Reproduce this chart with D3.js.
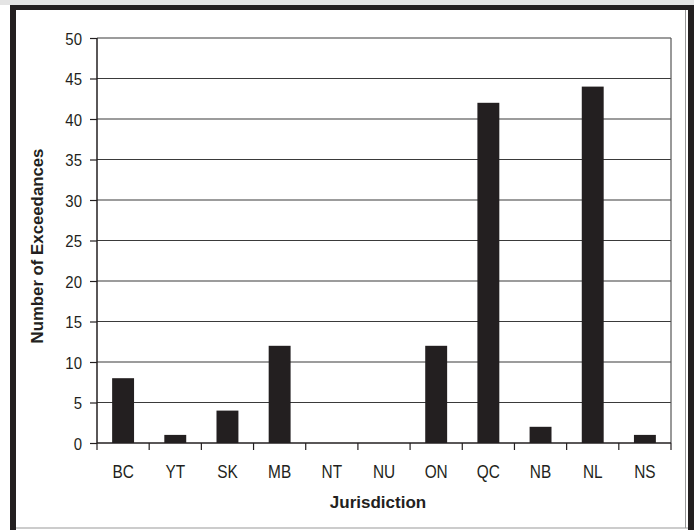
<!DOCTYPE html>
<html><head><meta charset="utf-8">
<script src="https://cdn.jsdelivr.net/npm/d3@7/dist/d3.min.js"></script>
<style>
html,body{margin:0;padding:0;background:#fff;overflow:hidden;}
svg{display:block;}
text{font-family:"Liberation Sans",Arial,Helvetica,sans-serif;fill:#231f20;}
</style></head>
<body>
<svg id="c" width="694" height="530"></svg>
<script>
const categories = ["BC","YT","SK","MB","NT","NU","ON","QC","NB","NL","NS"];
const exceedances = [8,1,4,12,0,0,12,42,2,44,1];
const yTicks = [0,5,10,15,20,25,30,35,40,45,50];
const xTitle = "Jurisdiction";
const yTitle = "Number of Exceedances";

const svg = d3.select("#c");
// frame
svg.append("rect").attr("x",0).attr("y",0).attr("width",694).attr("height",5).attr("fill","#e4e4e4");
svg.append("rect").attr("x",10).attr("y",5).attr("width",684).attr("height",5).attr("fill","#231f20");
svg.append("rect").attr("x",10).attr("y",5).attr("width",6).attr("height",525).attr("fill","#231f20");
svg.append("rect").attr("x",688).attr("y",5).attr("width",6).attr("height",525).attr("fill","#231f20");
svg.append("line").attr("x1",685.5).attr("x2",685.5).attr("y1",10).attr("y2",528).attr("stroke","#999").attr("stroke-width",1);
svg.append("line").attr("x1",16).attr("x2",688).attr("y1",528).attr("y2",528).attr("stroke","#999").attr("stroke-width",1);

const L=97, R=671, T=38, B=443;
const x = d3.scaleBand().domain(categories).range([L,R]).paddingInner(0.58).paddingOuter(0.29);
const xb = d3.scaleBand().domain(categories).range([L,R]);
const y = d3.scaleLinear().domain([0,50]).range([B,T]);

const g = svg.append("g");
// gridlines
g.selectAll("line.grid").data(yTicks.filter(d=>d>0)).join("line")
  .attr("x1",L).attr("x2",R).attr("y1",d=>y(d)).attr("y2",d=>y(d))
  .attr("stroke","#3a3a3a").attr("stroke-width",1.2);
// right border
g.append("line").attr("x1",R).attr("x2",R).attr("y1",T).attr("y2",B).attr("stroke","#555").attr("stroke-width",1.2);

// bars
g.selectAll("rect.bar").data(categories).join("rect")
  .attr("x",d=>x(d)).attr("width",x.bandwidth())
  .attr("y",(d,i)=>y(exceedances[i])).attr("height",(d,i)=>B-y(exceedances[i]))
  .attr("fill","#231f20");

// y axis
const yAxis = d3.axisLeft(y).tickValues(yTicks).tickSize(7).tickPadding(8);
const ya = svg.append("g").attr("transform",`translate(${L},0)`).call(yAxis);
ya.attr("font-size",null).attr("font-family",null);
ya.select(".domain").attr("stroke","#231f20").attr("stroke-width",1.5).attr("d",`M0,${T}V${B}`);
ya.selectAll(".tick line").attr("stroke","#231f20").attr("stroke-width",1.2);
ya.selectAll(".tick text").attr("x",null).attr("dy",null)
  .attr("transform","translate(-15,6) scale(0.88,1)")
  .style("font-size","17px").attr("fill","#231f20");

// x axis baseline and ticks
const xa = svg.append("g");
xa.append("line").attr("x1",L).attr("x2",R).attr("y1",B).attr("y2",B).attr("stroke","#231f20").attr("stroke-width",1.5);
const bounds = categories.map(c=>xb(c)).concat([R]);
xa.selectAll("line.t").data(bounds).join("line")
  .attr("x1",d=>d).attr("x2",d=>d).attr("y1",B).attr("y2",B+7)
  .attr("stroke","#231f20").attr("stroke-width",1.2);
xa.selectAll("text.lab").data(categories).join("text")
  .attr("transform",d=>`translate(${xb(d)+xb.bandwidth()/2},478) scale(0.88,1)`)
  .attr("text-anchor","middle").style("font-size","17.5px").text(d=>d);

// titles
svg.append("text").attr("x",(L+R)/2-6).attr("y",508).attr("text-anchor","middle")
  .style("font-size","17px").attr("font-weight","bold").text(xTitle);
svg.append("text").attr("transform",`translate(42.5,246) rotate(-90)`).attr("text-anchor","middle")
  .style("font-size","16.8px").attr("font-weight","bold").text(yTitle);
</script>
</body></html>
